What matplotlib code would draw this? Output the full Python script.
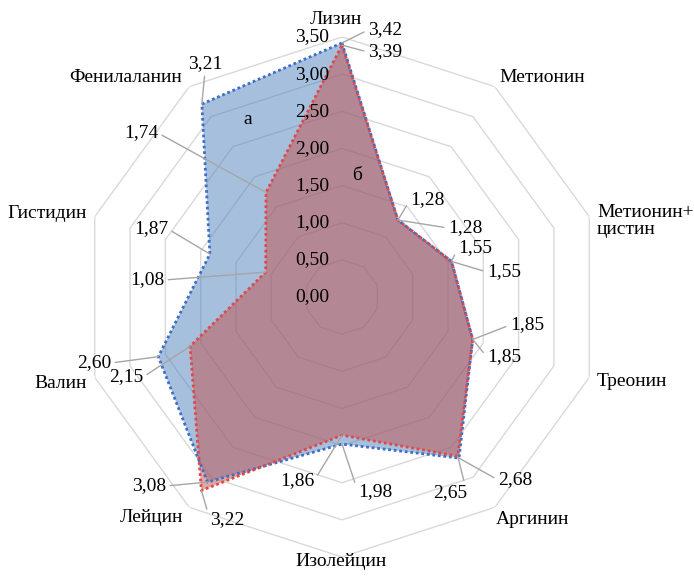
import numpy as np
import matplotlib.pyplot as plt

# Data
categories = ['Лизин', 'Метионин', 'Метионин+\nцистин', 'Треонин', 'Аргинин',
              'Изолейцин', 'Лейцин', 'Валин', 'Гистидин', 'Фенилаланин']
series_a = [3.42, 1.28, 1.55, 1.85, 2.68, 1.98, 3.08, 2.60, 1.87, 3.21]
series_b = [3.39, 1.28, 1.55, 1.85, 2.65, 1.86, 3.22, 2.15, 1.08, 1.74]
ring_values = [0.0, 0.5, 1.0, 1.5, 2.0, 2.5, 3.0, 3.5]

W, H = 694, 577
plt.rcParams['font.family'] = ['Liberation Serif', 'DejaVu Serif']
fig = plt.figure(figsize=(W / 100, H / 100), dpi=100)

# centre of the radar (image pixels) and radius of 3.5
cx, cy, R = 342, 297, 260
ax = fig.add_axes([(cx - R) / W, (H - cy - R) / H, 2 * R / W, 2 * R / H],
                  projection='polar')
ax.set_theta_zero_location('N')
ax.set_theta_direction(-1)
ax.set_ylim(0, 3.5)
ax.grid(False)
ax.set_xticks([])
ax.set_yticks([])
ax.spines['polar'].set_visible(False)
ax.patch.set_alpha(0)

n = len(categories)
theta = np.linspace(0, 2 * np.pi, n, endpoint=False)
theta_c = np.append(theta, theta[0])

# decagon rings
for v in ring_values[1:]:
    ax.plot(theta_c, [v] * (n + 1), color='#d9d9d9', lw=1, zorder=1)

a_c = series_a + series_a[:1]
b_c = series_b + series_b[:1]
ax.fill(theta_c, a_c, color='#4F81BD', alpha=0.5, lw=0, zorder=2)
ax.plot(theta_c, a_c, color='#3f6fc4', lw=2, ls=(0, (1, 1)), zorder=4)
ax.fill(theta_c, b_c, color='#C0504D', alpha=0.5, lw=0, zorder=3)
ax.plot(theta_c, b_c, color='#e04848', lw=2, ls=(0, (1, 1)), zorder=5)

fs = 14


def fp(x, y):
    return (x, H - y)


# ring value labels
for v in ring_values:
    y_img = cy - v / 3.5 * R
    fig.text(329 / W, (H - y_img) / H, f'{v:.2f}'.replace('.', ','),
             ha='right', va='center', fontsize=fs)

# category labels
cat_pos = [(336, 19, 'center'), (542, 78, 'center'), (597, 221, 'left'),
           (597, 381, 'left'), (533, 520, 'center'), (341, 562, 'center'),
           (151, 518, 'center'), (61, 383, 'center'), (47, 214, 'center'),
           (126, 78, 'center')]
for name, (x, y, ha) in zip(categories, cat_pos):
    fig.text(x / W, (H - y) / H, name, ha=ha, va='center', fontsize=fs,
             linespacing=1.05)

fig.text(248 / W, (H - 120) / H, 'а', ha='center', va='center', fontsize=fs)
fig.text(357 / W, (H - 175) / H, 'б', ha='center', va='center', fontsize=fs)

# data labels with leader lines: (x, y, side) of text in image pixels
a_lab = [(368, 30, 'left'), (410, 200, 'left'), (458, 248, 'left'),
         (510, 325, 'left'), (498, 480, 'left'), (358, 492, 'left'),
         (166, 486, 'right'), (111, 363, 'right'), (168, 229, 'right'),
         (205, 72, 'center')]
b_lab = [(368, 52, 'left'), (448, 228, 'left'), (487, 272, 'left'),
         (487, 357, 'left'), (467, 493, 'right'), (314, 481, 'right'),
         (210, 520, 'left'), (143, 377, 'right'), (164, 280, 'right'),
         (158, 133, 'right')]

for vals, labs in ((series_a, a_lab), (series_b, b_lab)):
    for t, v, (x, y, side) in zip(theta, vals, labs):
        if side == 'left':
            rel = (0, 0.5)
        elif side == 'right':
            rel = (1, 0.5)
        else:
            rel = (0.5, 0)
        ax.annotate(f'{v:.2f}'.replace('.', ','), xy=(t, v),
                    xytext=fp(x, y), textcoords='figure pixels',
                    ha=side, va='center' if side != 'center' else 'bottom',
                    fontsize=fs, annotation_clip=False, zorder=6,
                    arrowprops=dict(arrowstyle='-', color='#a6a6a6', lw=1,
                                    shrinkA=1, shrinkB=0, relpos=rel))

fig.savefig('out.png', dpi=100)
